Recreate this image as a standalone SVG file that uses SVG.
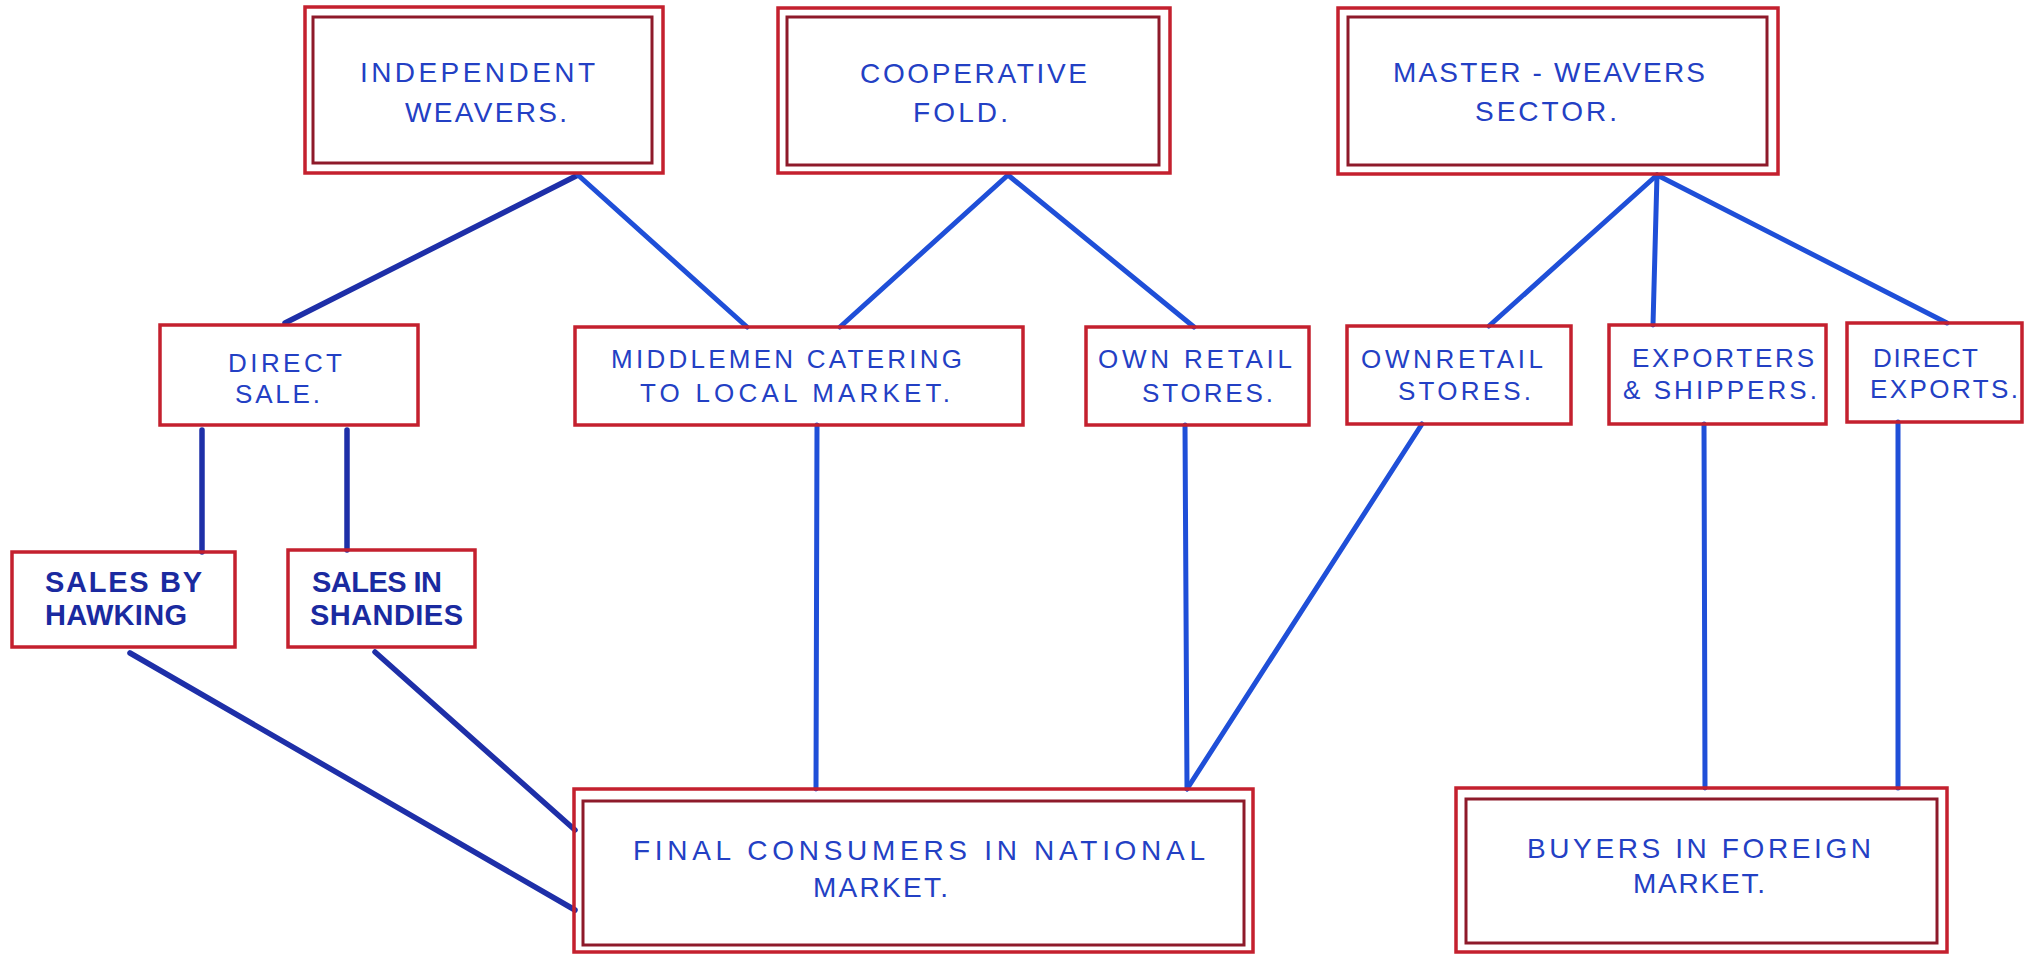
<svg xmlns="http://www.w3.org/2000/svg" width="2033" height="954" viewBox="0 0 2033 954">
<style>
.box{fill:none;stroke:#c4202e;stroke-width:3.5}
.inner{fill:none;stroke:#8e1a2a;stroke-width:3}
.t{font-family:"Liberation Sans","DejaVu Sans",sans-serif;fill:#2340c4;font-size:28px}
.tm{font-size:26px}
.ts{font-family:"Liberation Sans","DejaVu Sans",sans-serif;fill:#1a2aa0;font-size:29px;font-weight:bold}
.c{stroke:#1f4fd8;stroke-width:5;stroke-linecap:round;fill:none}
.cd{stroke:#1e2fa8;stroke-width:5.5;stroke-linecap:round;fill:none}
</style>
<rect width="2033" height="954" fill="#ffffff"/>
<g id="connectors">
<line class="cd" x1="578" y1="175" x2="285" y2="323"/>
<line class="c" x1="578" y1="175" x2="747" y2="327"/>
<line class="c" x1="1008" y1="175" x2="840" y2="327"/>
<line class="c" x1="1008" y1="175" x2="1194" y2="327"/>
<line class="c" x1="1657" y1="175" x2="1489" y2="326"/>
<line class="c" x1="1657" y1="175" x2="1653" y2="325"/>
<line class="c" x1="1657" y1="175" x2="1947" y2="323"/>
<line class="cd" x1="202" y1="430" x2="202" y2="552"/>
<line class="cd" x1="347" y1="430" x2="347" y2="550"/>
<line class="c" x1="817" y1="425" x2="816" y2="789"/>
<line class="c" x1="1185" y1="425" x2="1187" y2="789"/>
<line class="c" x1="1422" y1="424" x2="1187" y2="789"/>
<line class="c" x1="1704" y1="424" x2="1705" y2="788"/>
<line class="c" x1="1898" y1="422" x2="1898" y2="788"/>
<line class="cd" x1="130" y1="653" x2="575" y2="910"/>
<line class="cd" x1="375" y1="652" x2="575" y2="830"/>
</g>
<g id="independent-weavers">
<rect class="box" x="305" y="7" width="358" height="166"/>
<rect class="inner" x="313" y="17" width="339" height="146"/>
<text class="t" x="360" y="82" textLength="235" lengthAdjust="spacing">INDEPENDENT</text>
<text class="t" x="405" y="122" textLength="162" lengthAdjust="spacing">WEAVERS.</text>
</g>
<g id="cooperative-fold">
<rect class="box" x="778" y="8" width="392" height="165"/>
<rect class="inner" x="787" y="17" width="372" height="148"/>
<text class="t" x="860" y="83" textLength="227" lengthAdjust="spacing">COOPERATIVE</text>
<text class="t" x="913" y="122" textLength="95" lengthAdjust="spacing">FOLD.</text>
</g>
<g id="master-weavers">
<rect class="box" x="1338" y="8" width="440" height="166"/>
<rect class="inner" x="1348" y="17" width="419" height="148"/>
<text class="t" x="1393" y="82" textLength="312" lengthAdjust="spacing">MASTER - WEAVERS</text>
<text class="t" x="1475" y="121" textLength="142" lengthAdjust="spacing">SECTOR.</text>
</g>
<g id="direct-sale">
<rect class="box" x="160" y="325" width="258" height="100"/>
<text class="t tm" x="228" y="372" textLength="114" lengthAdjust="spacing">DIRECT</text>
<text class="t tm" x="235" y="403" textLength="85" lengthAdjust="spacing">SALE.</text>
</g>
<g id="middlemen">
<rect class="box" x="575" y="327" width="448" height="98"/>
<text class="t tm" x="611" y="368" textLength="351" lengthAdjust="spacing">MIDDLEMEN CATERING</text>
<text class="t tm" x="640" y="402" textLength="310" lengthAdjust="spacing">TO LOCAL MARKET.</text>
</g>
<g id="own-retail-coop">
<rect class="box" x="1086" y="327" width="223" height="98"/>
<text class="t tm" x="1098" y="368" textLength="194" lengthAdjust="spacing">OWN RETAIL</text>
<text class="t tm" x="1142" y="402" textLength="131" lengthAdjust="spacing">STORES.</text>
</g>
<g id="own-retail-master">
<rect class="box" x="1347" y="326" width="224" height="98"/>
<text class="t tm" x="1361" y="368" textLength="182" lengthAdjust="spacing">OWNRETAIL</text>
<text class="t tm" x="1398" y="400" textLength="133" lengthAdjust="spacing">STORES.</text>
</g>
<g id="exporters">
<rect class="box" x="1609" y="325" width="217" height="99"/>
<text class="t tm" x="1632" y="367" textLength="182" lengthAdjust="spacing">EXPORTERS</text>
<text class="t tm" x="1623" y="399" textLength="194" lengthAdjust="spacing">&amp; SHIPPERS.</text>
</g>
<g id="direct-exports">
<rect class="box" x="1847" y="323" width="175" height="99"/>
<text class="t tm" x="1873" y="367" textLength="105" lengthAdjust="spacing">DIRECT</text>
<text class="t tm" x="1870" y="398" textLength="148" lengthAdjust="spacing">EXPORTS.</text>
</g>
<g id="sales-hawking">
<rect class="box" x="12" y="552" width="223" height="95"/>
<text class="ts" x="45" y="592" textLength="157" lengthAdjust="spacing">SALES BY</text>
<text class="ts" x="45" y="625" textLength="142" lengthAdjust="spacing">HAWKING</text>
</g>
<g id="sales-shandies">
<rect class="box" x="288" y="550" width="187" height="97"/>
<text class="ts" x="312" y="592" textLength="130" lengthAdjust="spacing">SALES IN</text>
<text class="ts" x="310" y="625" textLength="153" lengthAdjust="spacing">SHANDIES</text>
</g>
<g id="final-consumers">
<rect class="box" x="574" y="789" width="679" height="163"/>
<rect class="inner" x="583" y="801" width="661" height="144"/>
<text class="t" x="633" y="860" textLength="572" lengthAdjust="spacing">FINAL CONSUMERS IN NATIONAL</text>
<text class="t" x="813" y="897" textLength="135" lengthAdjust="spacing">MARKET.</text>
</g>
<g id="buyers-foreign">
<rect class="box" x="1456" y="788" width="491" height="164"/>
<rect class="inner" x="1466" y="799" width="471" height="144"/>
<text class="t" x="1527" y="858" textLength="344" lengthAdjust="spacing">BUYERS IN FOREIGN</text>
<text class="t" x="1633" y="893" textLength="132" lengthAdjust="spacing">MARKET.</text>
</g>
</svg>
